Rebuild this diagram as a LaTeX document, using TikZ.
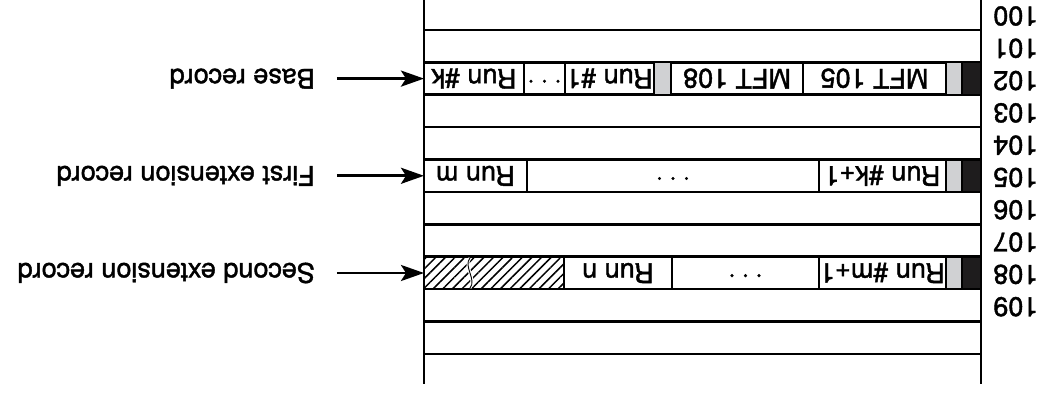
\documentclass[tikz,border=0pt]{standalone}
\usepackage{fontspec}
\setmainfont{TeX Gyre Heros}[FakeBold=1.5]
\usetikzlibrary{arrows.meta,positioning,patterns.meta}

\definecolor{slotgrey}{RGB}{208,209,211}
\definecolor{slotblack}{RGB}{30,28,29}

\tikzset{
  basic/.style   = {font=\fontsize{27}{30}\selectfont},
  cell/.style    = {basic, draw, line width=2pt, minimum height=32.4pt, inner sep=0pt, outer sep=0pt},
  hdr/.style     = {cell, fill=slotblack, minimum width=19pt},
  flag/.style    = {cell, fill=slotgrey},
  unused/.style  = {cell, pattern={Lines[angle=45,distance=6.8pt,line width=1.5pt]}},
  rowno/.style   = {basic, anchor=east, inner sep=0pt},
  note/.style    = {basic, anchor=west, inner sep=0pt},
  rowline/.style = {line width=2.6pt},
  arr/.style     = {-{Stealth[length=23pt,width=16pt,inset=5pt]}, line width=2.8pt}
}

\newcommand{\gapdots}{·\hspace{6pt}·\hspace{6pt}·}

\begin{document}
\begin{tikzpicture}[x=1pt, y=1pt, rotate=180, transform shape]
\useasboundingbox (0,0) rectangle (1049,395);

% table walls and slot lines
\draw[rowline] (68,0) -- (68,384);
\draw[rowline] (625,0) -- (625,384);
\foreach \i in {0,...,10}
  \draw[rowline] (68,30+32.4*\i) -- (625,30+32.4*\i);

% MFT entry numbers
\foreach \n [count=\i from 0] in {100,...,109}
  \node[rowno] (m\n) at (56,16+32.3*\i) {\n};

% base record, entry 102
\node[hdr, anchor=west] (b0) at (68,78.6) {};
\node[flag, minimum width=16pt, right=0pt of b0] (b1) {};
\node[cell, minimum width=143pt, right=0pt of b1] (b2) {MFT 105};
\node[cell, minimum width=132pt, right=0pt of b2] (b3) {MFT 108};
\node[flag, minimum width=17pt, right=0pt of b3] (b4) {};
\node[cell, minimum width=89pt, right=0pt of b4] (b5) {Run \#1};
\node[cell, minimum width=41pt, right=0pt of b5] (b6) {\gapdots};
\node[cell, minimum width=100pt, right=0pt of b6] (b7) {Run \#k};

% first extension record, entry 105
\node[hdr, anchor=west] (e0) at (68,175.8) {};
\node[flag, minimum width=16pt, right=0pt of e0] (e1) {};
\node[cell, minimum width=127pt, right=0pt of e1] (e2) {Run \#k+1};
\node[cell, minimum width=292pt, right=0pt of e2] (e3) {\gapdots};
\node[cell, minimum width=103pt, right=0pt of e3] (e4) {Run m};

% second extension record, entry 108
\node[hdr, anchor=west] (s0) at (68,273) {};
\node[flag, minimum width=16pt, right=0pt of s0] (s1) {};
\node[cell, minimum width=127pt, right=0pt of s1] (s2) {Run \#m+1};
\node[cell, minimum width=147pt, right=0pt of s2] (s3) {\gapdots};
\node[cell, minimum width=108pt, right=0pt of s3] (s4) {Run n};
\node[unused, minimum width=140pt, right=0pt of s4] (s5) {};
\draw[white, line width=3pt] (579,258) .. controls (586,266) and (572,280) .. (579,288);
\draw[line width=0.9pt] (579,258) .. controls (586,266) and (572,280) .. (579,288);

% labels and arrows
\node[note, right=109pt of b7] (lbase) {Base record};
\node[note, right=109pt of e4] (lfirst) {First extension record};
\node[note, right=109pt of s5] (lsecond) {Second extension record};
\draw[arr] ([xshift=-22pt]lbase.west) -- (b7.east);
\draw[arr] ([xshift=-22pt]lfirst.west) -- (e4.east);
\draw[arr] ([xshift=-22pt]lsecond.west) -- (s5.east);
\end{tikzpicture}
\end{document}
